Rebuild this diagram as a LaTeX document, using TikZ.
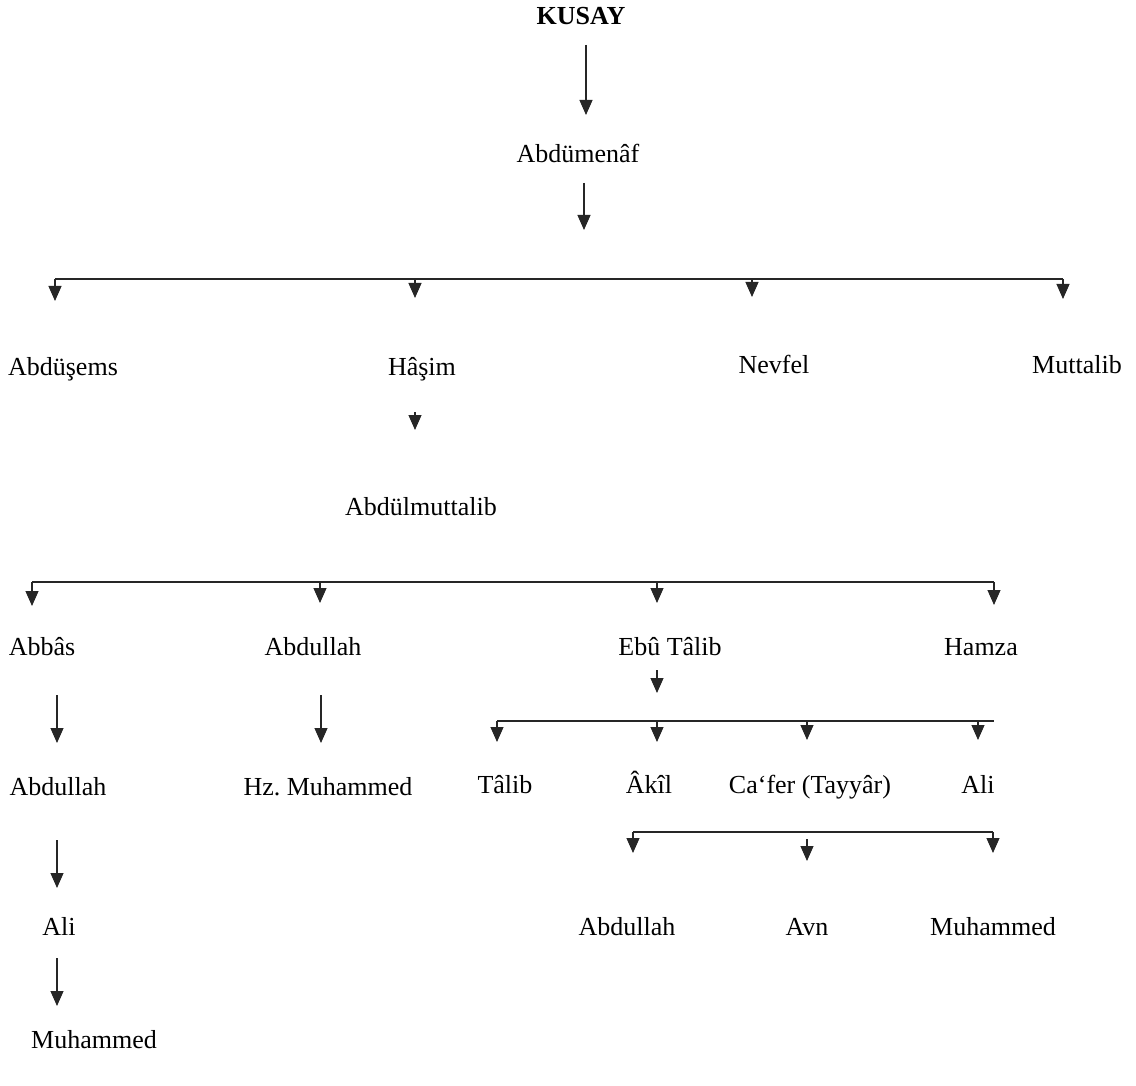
\documentclass[tikz,border=0pt]{standalone}
\usepackage{fontspec}
\setmainfont{Liberation Serif}
\usetikzlibrary{arrows.meta}
\begin{document}
\begin{tikzpicture}[x=1pt,y=-1pt,
  lbl/.style={anchor=base,inner sep=0pt,text=black,font=\fontsize{26}{30}\selectfont},
  arr/.style={-{Triangle[length=15pt,width=13pt]},line width=1.1pt,draw=black!85},
  bus/.style={line width=1.1pt,draw=black!85}]
\path[use as bounding box,fill=white] (0,0) rectangle (1136,1086);

% ---- names ----
\node[lbl,font=\fontsize{26}{30}\selectfont\bfseries] (kusay) at (581,25) {KUSAY};
\node[lbl] (abdumenaf) at (578,163) {Abdümenâf};
\node[lbl] (abdusems) at (63,375) {Abdüşems};
\node[lbl] (hasim) at (422,375) {Hâşim};
\node[lbl] (nevfel) at (774,373) {Nevfel};
\node[lbl] (muttalib) at (1077,373) {Muttalib};
\node[lbl] (abdulmuttalib) at (421,515) {Abdülmuttalib};
\node[lbl] (abbas) at (42,655) {Abbâs};
\node[lbl] (abdullahA) at (313,655) {Abdullah};
\node[lbl] (ebutalib) at (670,655) {Ebû Tâlib};
\node[lbl] (hamza) at (981,655) {Hamza};
\node[lbl] (abdullahB) at (58,795) {Abdullah};
\node[lbl] (hzmuhammed) at (328,795) {Hz.\ Muhammed};
\node[lbl] (talib) at (505,793) {Tâlib};
\node[lbl] (akil) at (649,793) {Âkîl};
\node[lbl] (cafer) at (810,793) {Ca‘fer (Tayyâr)};
\node[lbl] (ali) at (978,793) {Ali};
\node[lbl] (aliB) at (59,935) {Ali};
\node[lbl] (abdullahC) at (627,935) {Abdullah};
\node[lbl] (avn) at (807,935) {Avn};
\node[lbl] (muhammedC) at (993,935) {Muhammed};
\node[lbl] (muhammedB) at (94,1048) {Muhammed};

% ---- connector points ----
\coordinate (k1) at (586,45);   \coordinate (k2) at (586,115);
\coordinate (m1) at (584,183);  \coordinate (m2) at (584,230);
% bus 1
\coordinate (b1a) at (55,279);  \coordinate (b1b) at (415,279);
\coordinate (b1c) at (752,279); \coordinate (b1d) at (1063,279);
\coordinate (t1a) at (55,301);  \coordinate (t1b) at (415,298);
\coordinate (t1c) at (752,297); \coordinate (t1d) at (1063,299);
% hasim
\coordinate (h1) at (415,412);  \coordinate (h2) at (415,430);
% bus 2
\coordinate (b2a) at (32,582);  \coordinate (b2b) at (320,582);
\coordinate (b2c) at (657,582); \coordinate (b2d) at (994,582);
\coordinate (t2a) at (32,606);  \coordinate (t2b) at (320,603);
\coordinate (t2c) at (657,603); \coordinate (t2d) at (994,605);
% vertical chains
\coordinate (a1) at (57,695);   \coordinate (a2) at (57,743);
\coordinate (d1) at (321,695);  \coordinate (d2) at (321,743);
\coordinate (e1) at (657,670);  \coordinate (e2) at (657,693);
% bus 3
\coordinate (b3a) at (497,721); \coordinate (b3b) at (657,721);
\coordinate (b3c) at (807,721); \coordinate (b3d) at (978,721);
\coordinate (b3e) at (994,721);
\coordinate (t3a) at (497,742); \coordinate (t3b) at (657,742);
\coordinate (t3c) at (807,740); \coordinate (t3d) at (978,740);
% bus 4
\coordinate (b4a) at (633,832); \coordinate (b4c) at (993,832);
\coordinate (b4s) at (807,839);
\coordinate (t4a) at (633,853); \coordinate (t4b) at (807,861);
\coordinate (t4c) at (993,853);
% left chain
\coordinate (l1) at (57,840);   \coordinate (l2) at (57,888);
\coordinate (l3) at (57,958);   \coordinate (l4) at (57,1006);

% ---- connectors ----
\draw[arr] (k1) -- (k2);
\draw[arr] (m1) -- (m2);
\draw[bus] (b1a) -- (b1d);
\draw[arr] (b1a) -- (t1a);
\draw[arr] (b1b) -- (t1b);
\draw[arr] (b1c) -- (t1c);
\draw[arr] (b1d) -- (t1d);
\draw[arr] (h1) -- (h2);
\draw[bus] (b2a) -- (b2d);
\draw[arr] (b2a) -- (t2a);
\draw[arr] (b2b) -- (t2b);
\draw[arr] (b2c) -- (t2c);
\draw[arr] (b2d) -- (t2d);
\draw[arr] (a1) -- (a2);
\draw[arr] (d1) -- (d2);
\draw[arr] (e1) -- (e2);
\draw[bus] (b3a) -- (b3e);
\draw[arr] (b3a) -- (t3a);
\draw[arr] (b3b) -- (t3b);
\draw[arr] (b3c) -- (t3c);
\draw[arr] (b3d) -- (t3d);
\draw[bus] (b4a) -- (b4c);
\draw[arr] (b4a) -- (t4a);
\draw[arr] (b4s) -- (t4b);
\draw[arr] (b4c) -- (t4c);
\draw[arr] (l1) -- (l2);
\draw[arr] (l3) -- (l4);
\end{tikzpicture}
\end{document}
